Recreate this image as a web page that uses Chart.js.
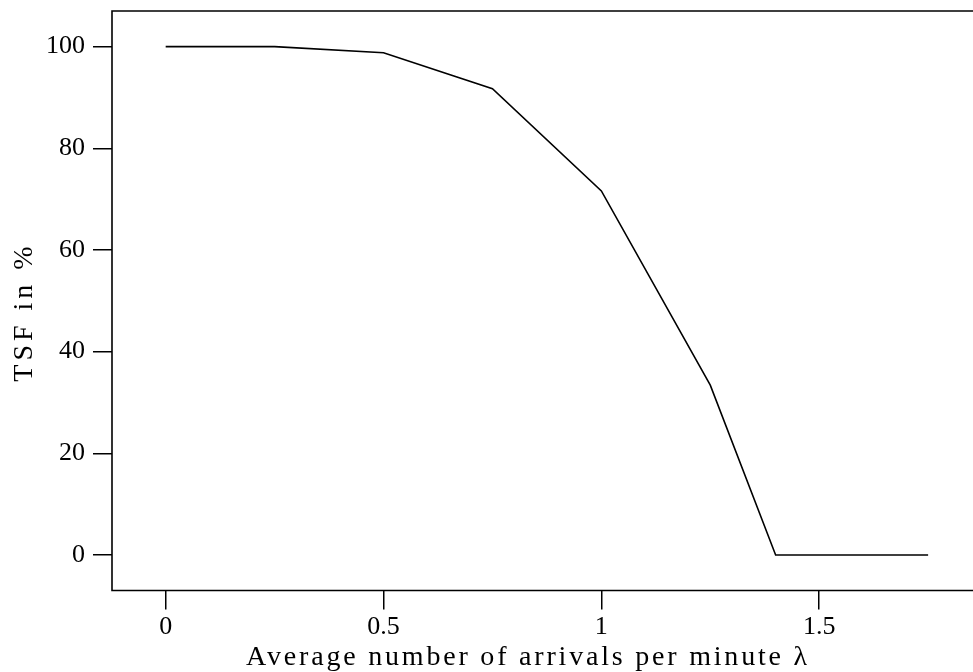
<!DOCTYPE html>
<html>
<head>
<meta charset="utf-8">
<script src="https://cdn.jsdelivr.net/npm/chart.js@4"></script>
<style>
html,body{margin:0;padding:0;background:#fff;}
#wrap{width:973px;height:672px;position:relative;}
</style>
</head>
<body>
<div id="wrap"><canvas id="c" width="973" height="672"></canvas></div>
<script>
// ---- data ----
const arrivalRates = [0, 0.25, 0.5, 0.75, 1, 1.25, 1.4, 1.5, 1.75];
const tsfPercent  = [100, 100, 98.8, 91.7, 71.6, 33.4, 0, 0, 0];
const xTickValues = [0, 0.5, 1, 1.5];
const yTickValues = [0, 20, 40, 60, 80, 100];
const xTitle = 'Average number of arrivals per minute λ';
const yTitle = 'TSF in %';

const FONT_FAMILY = "'Liberation Serif', 'DejaVu Serif', serif";
const FONT_SIZE = 26;

const boxPlugin = {
  id: 'rbox',
  afterDraw(chart) {
    const {ctx, chartArea: a} = chart;
    ctx.save();
    ctx.strokeStyle = '#000';
    ctx.lineWidth = 1.6;
    ctx.beginPath();
    ctx.moveTo(chart.width + 5, a.top);
    ctx.lineTo(a.left, a.top);
    ctx.lineTo(a.left, a.bottom);
    ctx.lineTo(chart.width + 5, a.bottom);
    ctx.stroke();
    // axis titles
    ctx.fillStyle = '#000';
    ctx.font = '28px ' + FONT_FAMILY;
    ctx.textAlign = 'center';
    ctx.textBaseline = 'alphabetic';
    ctx.letterSpacing = '2.8px';
    ctx.fillText(xTitle, 528, 665);
    ctx.translate(32, 312);
    ctx.rotate(-Math.PI / 2);
    ctx.letterSpacing = '4px';
    ctx.fillText(yTitle, 0, 0);
    ctx.restore();
  }
};

new Chart(document.getElementById('c'), {
  type: 'line',
  data: {
    datasets: [{
      data: arrivalRates.map((x, i) => ({x: x, y: tsfPercent[i]})),
      borderColor: '#000',
      borderWidth: 1.6,
      pointRadius: 0,
      tension: 0,
      fill: false
    }]
  },
  options: {
    responsive: false,
    devicePixelRatio: 1,
    animation: false,
    layout: {padding: {top: 11, left: 0, right: 0, bottom: 0}},
    plugins: {legend: {display: false}, tooltip: {enabled: false}},
    scales: {
      x: {
        type: 'linear',
        min: -0.1232,
        max: 1.853,
        afterBuildTicks(scale) { scale.ticks = xTickValues.map(v => ({value: v})); },
        afterFit(scale) { scale.height = 81.5; scale.paddingLeft = 0; scale.paddingRight = 0; },
        border: {display: false},
        grid: {drawOnChartArea: false, drawTicks: true, tickLength: 19, color: '#000', lineWidth: 1.5},
        ticks: {
          color: '#000', padding: 2, maxRotation: 0, autoSkip: false,
          font: {family: FONT_FAMILY, size: FONT_SIZE},
          callback: v => String(v)
        }
      },
      y: {
        type: 'linear',
        min: -6.98,
        max: 107.0,
        afterBuildTicks(scale) { scale.ticks = yTickValues.map(v => ({value: v})); },
        afterFit(scale) { scale.width = 112; scale.paddingTop = 0; scale.paddingBottom = 0; },
        border: {display: false},
        grid: {drawOnChartArea: false, drawTicks: true, tickLength: 19, color: '#000', lineWidth: 1.5},
        ticks: {
          color: '#000', padding: 8, autoSkip: false,
          font: {family: FONT_FAMILY, size: FONT_SIZE},
          callback: v => String(v)
        }
      }
    }
  },
  plugins: [boxPlugin]
});
</script>
</body>
</html>
